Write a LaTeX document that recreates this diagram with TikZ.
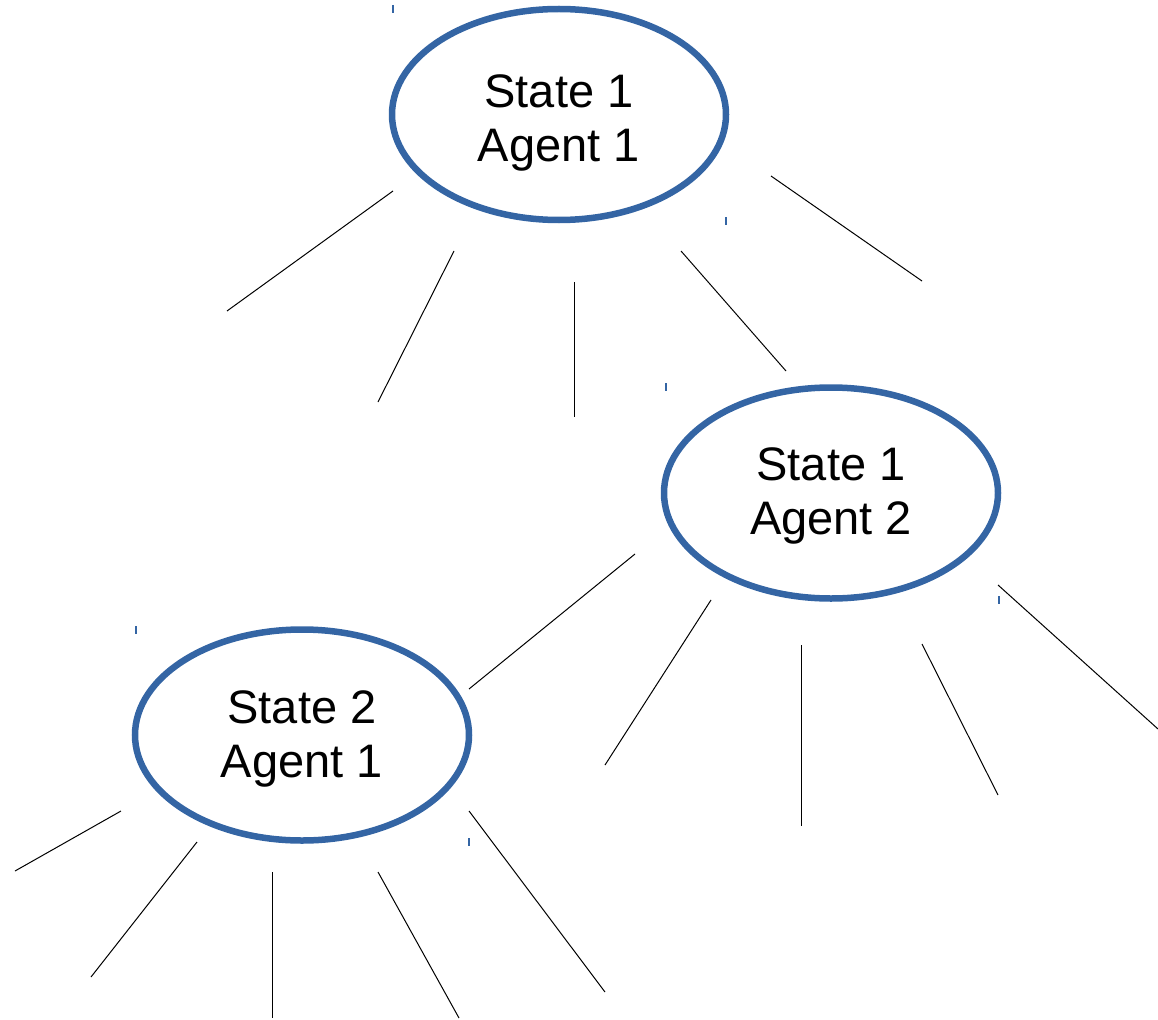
\documentclass[tikz,border=0pt]{standalone}
\usepackage{fontspec}
\setmainfont{Liberation Sans}
\definecolor{ellblue}{RGB}{52,101,164}
\begin{document}
\begin{tikzpicture}[x=1pt,y=-1pt,
  statebox/.style={draw=ellblue, line width=6.5pt},
  label/.style={font=\fontsize{47}{54}\selectfont, align=center, inner sep=0pt},
  edge/.style={black, line width=1pt},
  tick/.style={ellblue, line width=1.5pt}]
\useasboundingbox (0,0) rectangle (1158,1019);
% ellipses
\draw[statebox] (559,114.5) ellipse [x radius=167, y radius=105.5];
\draw[statebox] (831,493) ellipse [x radius=167, y radius=105.5];
\draw[statebox] (302,735) ellipse [x radius=167, y radius=105.5];
\node[label] (s1a1) at (559,123) {State 1\\Agent 1};
\node[label] (s1a2) at (831,496) {State 1\\Agent 2};
\node[label] (s2a1) at (302,739) {State 2\\Agent 1};
% lines from top ellipse
\draw[edge] (393,191) -- (227,311);
\draw[edge] (454,251) -- (378,402);
\draw[edge] (574,282) -- (574,417);
\draw[edge] (681,251) -- (786,371);
\draw[edge] (771,176) -- (922,281);
% lines from right ellipse
\draw[edge] (635,554) -- (469,689);
\draw[edge] (711,600) -- (605,765);
\draw[edge] (801,645) -- (801,826);
\draw[edge] (922,644) -- (998,795);
\draw[edge] (998,585) -- (1158,729);
% lines from left ellipse
\draw[edge] (121,811) -- (15,871);
\draw[edge] (197,842) -- (91,977);
\draw[edge] (272,872) -- (272,1018);
\draw[edge] (378,872) -- (459,1018);
\draw[edge] (469,811) -- (605,992);
% small ticks
\draw[tick] (393,5) -- (393,13);
\draw[tick] (726,217) -- (726,225);
\draw[tick] (666,383) -- (666,391);
\draw[tick] (136,626) -- (136,634);
\draw[tick] (999,596) -- (999,604);
\draw[tick] (469,838) -- (469,846);
\end{tikzpicture}
\end{document}
